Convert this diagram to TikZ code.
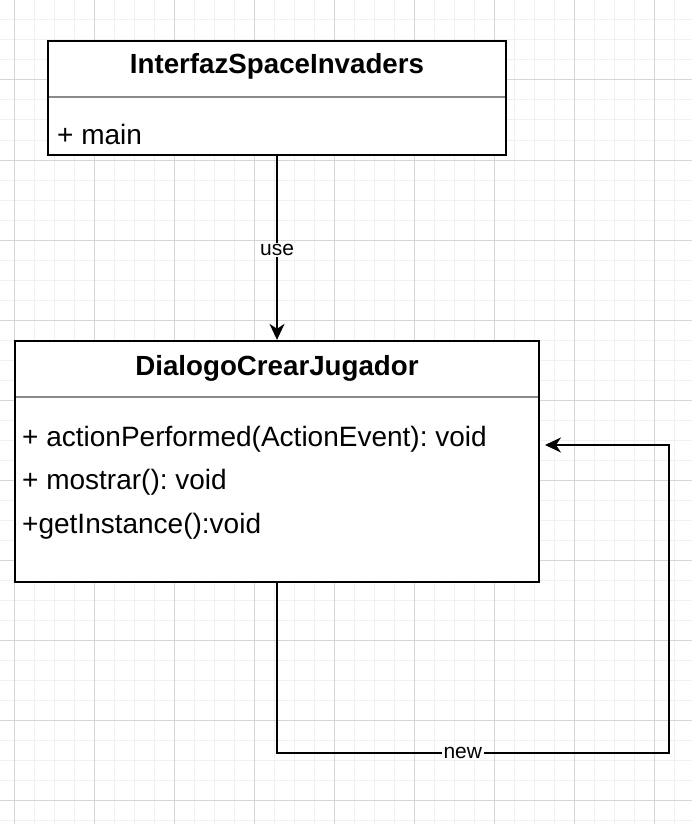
\documentclass[tikz,border=0pt]{standalone}
\usepackage{fontspec}
\setmainfont{Liberation Sans}
\usetikzlibrary{arrows.meta}
\definecolor{gridminor}{HTML}{F0F0F0}
\definecolor{gridmajor}{HTML}{D6D6D6}
\definecolor{divgray}{HTML}{8A8A8A}
\frenchspacing
\tikzset{
  minorline/.style={draw=gridminor, line width=1pt},
  majorline/.style={draw=gridmajor, line width=1pt},
  umlbox/.style={draw=black, line width=2.3pt, fill=white, inner sep=0pt, rectangle},
  divline/.style={draw=divgray, line width=2pt},
  titletxt/.style={font=\fontsize{27.7}{33}\selectfont\bfseries, inner sep=0pt, anchor=base},
  attrtxt/.style={font=\fontsize{28}{33}\selectfont, inner sep=0pt, anchor=base west},
  edge/.style={draw=black, line width=2.2pt, -{Stealth[length=16pt, width=15pt, inset=5pt]}},
  lbl/.style={font=\fontsize{21}{24}\selectfont, fill=white, inner sep=1.5pt}
}
\begin{document}
\begin{tikzpicture}[x=1pt, y=-1pt]
\useasboundingbox (0,0) rectangle (692,824);
% grid
\foreach \x in {14,34,...,694} \draw[minorline] (\x,0) -- (\x,824);
\foreach \y in {0,20,...,824} \draw[minorline] (0,\y) -- (692,\y);
\foreach \x in {14,94,...,694} \draw[majorline] (\x,0) -- (\x,824);
\foreach \y in {0,80,...,824} \draw[majorline] (0,\y) -- (692,\y);

% box 1
\node[umlbox, minimum width=458pt, minimum height=114pt] (b1) at (277,98) {};
\draw[divline] (49,97) -- (505,97);
\node[titletxt] (t1) at (277,74) {InterfazSpaceInvaders};
\node[attrtxt] (a1) at (57,144) {+ main};

% box 2
\node[umlbox, minimum width=524pt, minimum height=241pt] (b2) at (277,461.5) {};
\draw[divline] (16,397) -- (538,397);
\node[titletxt] (t2) at (277,375) {DialogoCrearJugador};
\node[attrtxt] (m1) at (22,446) {+ actionPerformed(ActionEvent): void};
\node[attrtxt] (m2) at (22,489) {+ mostrar(): void};
\node[attrtxt] (m3) at (22,533) {+getInstance():void};

% use edge
\draw[edge] (b1.south) -- node[lbl, pos=0.51] {use} (b2.north);

% self loop
\coordinate (c1) at (277,753);
\coordinate (c2) at (669,753);
\coordinate (c3) at (669,445);
\coordinate (loopend) at (545,445);
\draw[edge] (b2.south) -- (c1) -- node[lbl, pos=0.474] {new} (c2) -- (c3) -- (loopend);
\end{tikzpicture}
\end{document}
